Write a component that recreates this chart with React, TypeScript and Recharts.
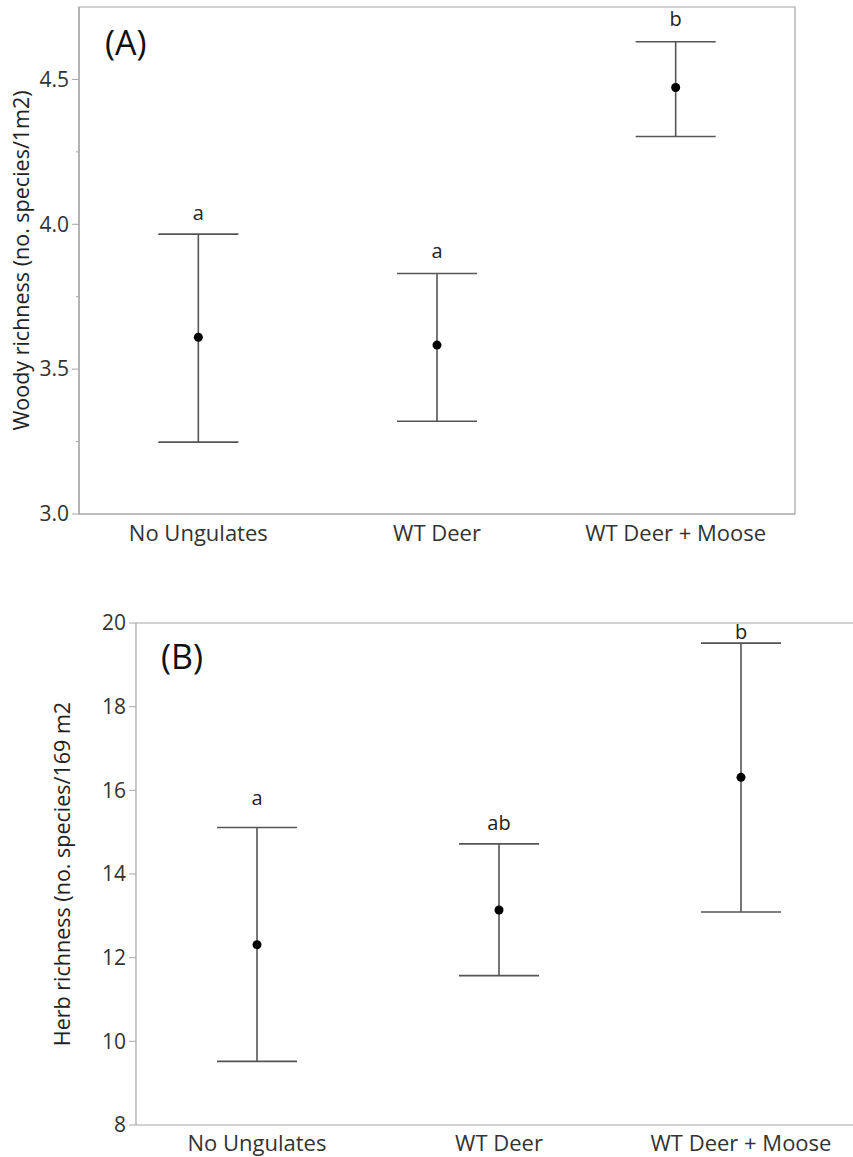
import React from 'react';
import {
  ComposedChart,
  Scatter,
  ErrorBar,
  XAxis,
  YAxis,
  ReferenceArea,
  ReferenceLine,
  LabelList,
} from 'recharts';

const categories = ['No Ungulates', 'WT Deer', 'WT Deer + Moose'];

const woodyMean = [3.61, 3.583, 4.472];
const woodyLower = [3.248, 3.32, 4.303];
const woodyUpper = [3.966, 3.83, 4.63];
const woodyLetters = ['a', 'a', 'b'];
const woodyLetterY = [4.04, 3.907, 4.71];
const woodyMajorTicks = [3.0, 3.5, 4.0, 4.5];
const woodyMinorTicks = [3.25, 3.75, 4.25];

const herbMean = [12.31, 13.14, 16.31];
const herbLower = [9.52, 11.57, 13.09];
const herbUpper = [15.11, 14.72, 19.52];
const herbLetters = ['a', 'ab', 'b'];
const herbLetterY = [15.81, 15.22, 19.78];
const herbTicks = [8, 10, 12, 14, 16, 18, 20];

const FONT = '"Open Sans", "Noto Sans", sans-serif';
const AXIS_GRAY = '#a6a6a6';
const BAR_GRAY = '#555555';
const TEXT = '#333333';

function buildRows(mean: number[], lower: number[], upper: number[], letters: string[], letterY: number[]) {
  return categories.map((c, i) => ({
    cat: c,
    mean: mean[i],
    err: [mean[i] - lower[i], upper[i] - mean[i]],
    letter: letters[i],
    letterY: letterY[i],
  }));
}

const woodyData = buildRows(woodyMean, woodyLower, woodyUpper, woodyLetters, woodyLetterY);
const herbData = buildRows(herbMean, herbLower, herbUpper, herbLetters, herbLetterY);

function makeYTick(minor: number[], fmt: (v: number) => string) {
  return (props: any) => {
    const { x, y, payload } = props;
    const v = payload.value as number;
    const isMinor = minor.some((m) => Math.abs(m - v) < 1e-9);
    if (isMinor) {
      return (
        <g>
          <line x1={x - 3} x2={x} y1={y} y2={y} stroke={AXIS_GRAY} strokeWidth={1} />
        </g>
      );
    }
    return (
      <g>
        <line x1={x - 7} x2={x} y1={y} y2={y} stroke={AXIS_GRAY} strokeWidth={1} />
        <text x={x - 10} y={y} dy="0.35em" textAnchor="end" fill={TEXT} fontSize={21} fontFamily={FONT}>
          {fmt(v)}
        </text>
      </g>
    );
  };
}

const dotShape = (p: any) => <circle cx={p.cx} cy={p.cy} r={4.5} fill="#000" />;
const emptyShape = () => <g />;

function yLabel(text: string, cx: number) {
  return (props: any) => {
    const vb = props.viewBox || {};
    const cy = (vb.y ?? 0) + (vb.height ?? 0) / 2;
    return (
      <text
        x={cx}
        y={cy}
        transform={`rotate(-90, ${cx}, ${cy})`}
        textAnchor="middle"
        dominantBaseline="central"
        fill="#222"
        fontSize={21.5}
        fontFamily={FONT}
      >
        {text}
      </text>
    );
  };
}

export default function App() {
  return (
    <div
      style={{
        position: 'absolute',
        left: 0,
        top: 0,
        width: 853,
        height: 1157,
        overflow: 'hidden',
        background: '#fff',
      }}
    >
      {/* Panel A */}
      <div style={{ position: 'absolute', left: 0, top: 0 }}>
        <ComposedChart width={853} height={560} data={woodyData} margin={{ top: 7, right: 58, left: 0, bottom: 16 }}>
          <ReferenceArea y1={3.0} y2={4.75} fill="none" stroke={AXIS_GRAY} strokeWidth={1.2} ifOverflow="visible" />
          <XAxis
            dataKey="cat"
            type="category"
            scale="band"
            height={30}
            tickLine={false}
            tickSize={6}
            tickMargin={5}
            axisLine={{ stroke: AXIS_GRAY, strokeWidth: 1.2 }}
            tick={{ fill: TEXT, fontSize: 22, fontFamily: FONT }}
            interval={0}
          />
          <YAxis
            type="number"
            domain={[3.0, 4.75]}
            ticks={[...woodyMajorTicks, ...woodyMinorTicks].sort((a, b) => a - b)}
            width={79}
            tickLine={false}
            tickSize={0}
            tickMargin={0}
            axisLine={{ stroke: AXIS_GRAY, strokeWidth: 1.2 }}
            tick={makeYTick(woodyMinorTicks, (v) => v.toFixed(1))}
            interval={0}
            allowDataOverflow
            label={{ content: yLabel('Woody richness (no. species/1m2)', 20) as any }}
          />
          <Scatter dataKey="mean" isAnimationActive={false} shape={dotShape}>
            <ErrorBar dataKey="err" direction="y" width={40} stroke={BAR_GRAY} strokeWidth={1.6} isAnimationActive={false} />
          </Scatter>
          <Scatter dataKey="letterY" isAnimationActive={false} shape={emptyShape}>
            <LabelList dataKey="letter" position="center" fill="#222" fontSize={20} fontFamily={FONT} />
          </Scatter>
        </ComposedChart>
        <div
          style={{
            position: 'absolute',
            left: 105,
            top: 20,
            fontFamily: FONT,
            fontSize: 34,
            color: '#111',
            lineHeight: '44px',
          }}
        >
          (A)
        </div>
      </div>

      {/* Panel B */}
      <div style={{ position: 'absolute', left: 0, top: 580 }}>
        <ComposedChart width={862} height={577} data={herbData} margin={{ top: 43, right: 0, left: 0, bottom: 2 }}>
          <ReferenceLine y={20} stroke={AXIS_GRAY} strokeWidth={1.2} ifOverflow="visible" />
          <XAxis
            dataKey="cat"
            type="category"
            scale="band"
            height={30}
            tickLine={false}
            tickSize={5}
            tickMargin={5}
            axisLine={{ stroke: AXIS_GRAY, strokeWidth: 1.2 }}
            tick={{ fill: TEXT, fontSize: 22, fontFamily: FONT }}
            interval={0}
          />
          <YAxis
            type="number"
            domain={[8, 20]}
            ticks={herbTicks}
            width={136}
            tickLine={false}
            tickSize={0}
            tickMargin={0}
            axisLine={{ stroke: AXIS_GRAY, strokeWidth: 1.2 }}
            tick={makeYTick([], (v) => String(v))}
            interval={0}
            allowDataOverflow
            label={{ content: yLabel('Herb richness (no. species/169 m2', 61) as any }}
          />
          <Scatter dataKey="mean" isAnimationActive={false} shape={dotShape}>
            <ErrorBar dataKey="err" direction="y" width={40} stroke={BAR_GRAY} strokeWidth={1.6} isAnimationActive={false} />
          </Scatter>
          <Scatter dataKey="letterY" isAnimationActive={false} shape={emptyShape}>
            <LabelList dataKey="letter" position="center" fill="#222" fontSize={20} fontFamily={FONT} />
          </Scatter>
        </ComposedChart>
        <div
          style={{
            position: 'absolute',
            left: 161,
            top: 54,
            fontFamily: FONT,
            fontSize: 34,
            color: '#111',
            lineHeight: '44px',
          }}
        >
          (B)
        </div>
      </div>
    </div>
  );
}
